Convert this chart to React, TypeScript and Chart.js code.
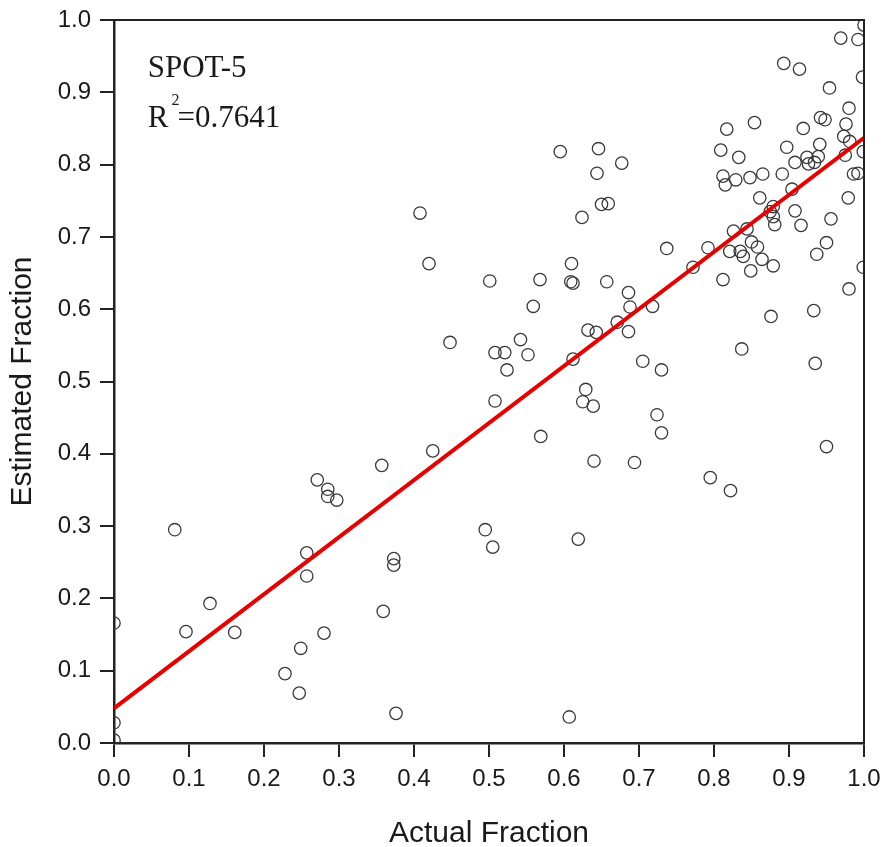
import React, { useEffect, useRef } from "react";
import { Chart, registerables } from "chart.js";

Chart.register(...registerables);

// Actual (x) and estimated (y) fractions
const actualFraction = [
  0.0, 0.0, 0.0, 0.081, 0.096, 0.128, 0.161, 0.228, 0.247, 0.249,
  0.257, 0.257, 0.271, 0.285, 0.285, 0.297, 0.28, 0.357, 0.359, 0.373,
  0.373, 0.376, 0.425, 0.495, 0.505, 0.508, 0.408, 0.42, 0.448, 0.501,
  0.508, 0.521, 0.552, 0.524, 0.542, 0.559, 0.568, 0.569, 0.595, 0.646,
  0.644, 0.677, 0.65, 0.659, 0.624, 0.61, 0.609, 0.612, 0.657, 0.686,
  0.688, 0.718, 0.737, 0.772, 0.792, 0.812, 0.632, 0.643, 0.671, 0.686,
  0.612, 0.705, 0.73, 0.629, 0.625, 0.639, 0.724, 0.73, 0.64, 0.694,
  0.619, 0.607, 0.795, 0.822, 0.95, 1.0, 0.969, 0.992, 0.893, 0.914,
  0.998, 0.954, 0.98, 0.942, 0.948, 0.976, 0.854, 0.817, 0.919, 0.973,
  0.981, 0.999, 0.975, 0.941, 0.897, 0.809, 0.833, 0.908, 0.924, 0.926,
  0.934, 0.939, 0.812, 0.815, 0.829, 0.848, 0.865, 0.891, 0.986, 0.992,
  0.904, 0.861, 0.979, 0.879, 0.875, 0.879, 0.881, 0.908, 0.916, 0.956,
  0.826, 0.844, 0.821, 0.835, 0.839, 0.85, 0.858, 0.864, 0.879, 0.849,
  0.937, 0.95, 0.999, 0.98, 0.933, 0.876, 0.837, 0.935,
];
const estimatedFraction = [
  0.166, 0.028, 0.004, 0.295, 0.154, 0.193, 0.153, 0.096, 0.069, 0.131,
  0.263, 0.231, 0.364, 0.351, 0.341, 0.336, 0.152, 0.384, 0.182, 0.255,
  0.246, 0.041, 0.404, 0.295, 0.271, 0.473, 0.733, 0.663, 0.554, 0.639,
  0.54, 0.54, 0.537, 0.516, 0.558, 0.604, 0.641, 0.424, 0.818, 0.822,
  0.788, 0.802, 0.745, 0.746, 0.727, 0.663, 0.638, 0.636, 0.638, 0.623,
  0.603, 0.604, 0.684, 0.658, 0.685, 0.641, 0.571, 0.568, 0.582, 0.569,
  0.531, 0.528, 0.516, 0.489, 0.472, 0.466, 0.454, 0.429, 0.39, 0.388,
  0.282, 0.036, 0.367, 0.349, 0.41, 0.993, 0.975, 0.973, 0.94, 0.932,
  0.921, 0.906, 0.878, 0.865, 0.862, 0.856, 0.858, 0.849, 0.85, 0.839,
  0.832, 0.818, 0.813, 0.828, 0.824, 0.82, 0.81, 0.803, 0.81, 0.801,
  0.803, 0.811, 0.784, 0.772, 0.779, 0.782, 0.787, 0.787, 0.787, 0.788,
  0.766, 0.754, 0.754, 0.742, 0.735, 0.728, 0.717, 0.736, 0.716, 0.725,
  0.708, 0.711, 0.68, 0.68, 0.673, 0.693, 0.686, 0.669, 0.66, 0.653,
  0.676, 0.692, 0.658, 0.628, 0.598, 0.59, 0.545, 0.525,
];

// Regression line end points
const fitX = [0, 1];
const fitY = [0.048, 0.837];

const sensorLabel = "SPOT-5";
const r2Value = "0.7641";
const xTitle = "Actual Fraction";
const yTitle = "Estimated Fraction";

// annotation anchors (in data units)
const annotX = 0.045;
const sensorY = 0.921;
const r2Y = 0.852;

const TEXT = "#1a1a1a";
const AXIS = "#222222";

export default function App() {
  const canvasRef = useRef<HTMLCanvasElement | null>(null);

  useEffect(() => {
    const canvas = canvasRef.current;
    if (!canvas) return;

    const framePlugin = {
      id: "frameAndNotes",
      afterDatasetsDraw(chart: any) {
        const { ctx, chartArea, scales } = chart;
        const { left, right, top, bottom } = chartArea;
        ctx.save();
        ctx.strokeStyle = AXIS;
        ctx.lineWidth = 2;
        ctx.beginPath();
        ctx.moveTo(left, top);
        ctx.lineTo(right, top);
        ctx.lineTo(right, bottom);
        ctx.stroke();

        ctx.fillStyle = TEXT;
        ctx.textBaseline = "alphabetic";
        ctx.textAlign = "left";
        const serif = '"Liberation Serif", "Times New Roman", Times, serif';
        const x0 = scales.x.getPixelForValue(annotX);
        ctx.font = `31px ${serif}`;
        ctx.fillText(sensorLabel, x0, scales.y.getPixelForValue(sensorY));
        const yR = scales.y.getPixelForValue(r2Y);
        ctx.fillText("R", x0, yR);
        const wR = ctx.measureText("R").width;
        ctx.font = `16px ${serif}`;
        ctx.fillText("2", x0 + wR + 3, yR - 22.5);
        ctx.font = `31px ${serif}`;
        ctx.fillText("=" + r2Value, x0 + wR + 9, yR);
        ctx.restore();
      },
    };

    const tickFont = { family: '"Liberation Sans", Arial, sans-serif', size: 24 };

    const chart = new Chart(canvas, {
      type: "scatter",
      data: {
        datasets: [
          {
            type: "line",
            label: "fit",
            data: fitX.map((x, i) => ({ x, y: fitY[i] })),
            borderColor: "#e60000",
            borderWidth: 4,
            pointRadius: 0,
            fill: false,
            order: 0,
            clip: 0,
          } as any,
          {
            label: "samples",
            data: actualFraction.map((x, i) => ({ x, y: estimatedFraction[i] })),
            pointRadius: 6.2,
            pointBorderWidth: 1.3,
            borderColor: "#3a3a3a",
            backgroundColor: "rgba(0,0,0,0)",
            pointBorderColor: "#3a3a3a",
            pointBackgroundColor: "rgba(0,0,0,0)",
            order: 1,
            clip: 0,
          } as any,
        ],
      },
      options: {
        responsive: false,
        animation: false,
        devicePixelRatio: 1,
        layout: { padding: { top: 20, right: 20, left: 0, bottom: 0 } },
        plugins: {
          legend: { display: false },
          tooltip: { enabled: false },
        },
        scales: {
          x: {
            type: "linear",
            min: 0,
            max: 1,
            afterFit: (s: any) => {
              s.height = 104;
              s.paddingLeft = 0;
              s.paddingRight = 0;
            },
            grid: {
              display: true,
              drawOnChartArea: false,
              drawTicks: true,
              tickLength: 14,
              color: AXIS,
              lineWidth: 2,
            },
            border: { display: true, color: AXIS, width: 2.5 },
            ticks: {
              stepSize: 0.1,
              padding: 8,
              color: TEXT,
              font: tickFont,
              maxRotation: 0,
              callback: (v: any) => Number(v).toFixed(1),
            },
            title: {
              display: true,
              text: xTitle,
              color: TEXT,
              font: { family: '"Liberation Sans", Arial, sans-serif', size: 30, lineHeight: 0.8 },
              padding: { top: 0, bottom: 1.5 },
            },
          },
          y: {
            type: "linear",
            min: 0,
            max: 1,
            afterFit: (s: any) => {
              s.width = 114;
              s.paddingTop = 0;
              s.paddingBottom = 0;
            },
            grid: {
              display: true,
              drawOnChartArea: false,
              drawTicks: true,
              tickLength: 14,
              color: AXIS,
              lineWidth: 2,
            },
            border: { display: true, color: AXIS, width: 2.5 },
            ticks: {
              stepSize: 0.1,
              padding: 9,
              color: TEXT,
              font: tickFont,
              callback: (v: any) => Number(v).toFixed(1),
            },
            title: {
              display: true,
              text: yTitle,
              color: TEXT,
              font: { family: '"Liberation Sans", Arial, sans-serif', size: 30, lineHeight: 1.2 },
              padding: { top: 4.5, bottom: 0 },
            },
          },
        },
      },
      plugins: [framePlugin],
    } as any);

    return () => {
      chart.destroy();
    };
  }, []);

  return (
    <div style={{ position: "fixed", left: 0, top: 0, width: 884, height: 847, background: "#ffffff" }}>
      <canvas ref={canvasRef} width={884} height={847} style={{ display: "block" }} />
    </div>
  );
}
